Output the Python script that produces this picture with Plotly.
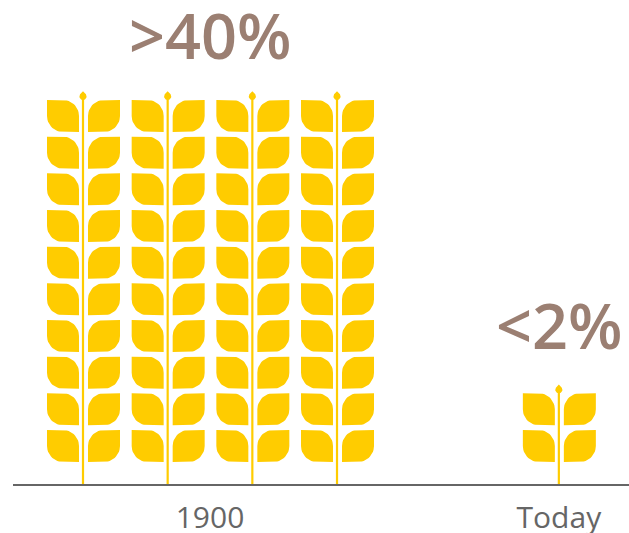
import numpy as np
import plotly.graph_objects as go

# Data
categories = ["1900", "Today"]
stalks = [4, 1]
leaf_pairs = [10, 2]
share_labels = [">40%", "<2%"]
first_stalk = [0.0, 5.62]

# Layout scale: x unit = one stalk spacing, y unit = one leaf row
W, H = 629, 533
LEFT_PX, BASE_PX = 13, 484
ML, MB = LEFT_PX, H - BASE_PX
X0_PX, PITCH_X = 83.0, 84.67
PITCH_Y = 36.67
x_range = [(LEFT_PX - X0_PX) / PITCH_X, (W - X0_PX) / PITCH_X]
y_range = [0, BASE_PX / PITCH_Y]

GRAIN = "#FFCC00"
BROWN = "#9B7F72"
GREY = "#666666"
FONT = "Open Sans, Noto Sans, sans-serif"


def arc(cx, cy, r, a0, a1, n=14):
    t = np.radians(np.linspace(a0, a1, n))
    return list(cx + r * np.cos(t)), list(cy + r * np.sin(t))


def leaf_template(size=32.0, r=16.0):
    xs, ys = [0.0], [size]
    ax, ay = arc(size - r, size - r, r, 90, 0)
    xs += ax; ys += ay
    xs += [size, size]; ys += [0.0, 0.0]
    bx, by = arc(r, r, r, 270, 180)
    xs += bx; ys += by
    xs.append(0.0); ys.append(size)
    return np.array(xs), np.array(ys)


LX, LY = leaf_template()
LEAF_GAP_L, LEAF_GAP_R = 4.0, 5.0
BOTTOM_PX = 22.0
LEAF_H = 32.0

leaf_x, leaf_y, stem_x, stem_y, tip_x, tip_y, centers = [], [], [], [], [], [], []
for n, pairs, start in zip(stalks, leaf_pairs, first_stalk):
    positions = [start + i for i in range(n)]
    centers.append(sum(positions) / n)
    top = (BOTTOM_PX + (pairs - 1) * PITCH_Y + LEAF_H) / PITCH_Y
    for p in positions:
        for row in range(pairs):
            y0 = BOTTOM_PX / PITCH_Y + row
            leaf_x += list(p + (LX - 32 - LEAF_GAP_L) / PITCH_X) + [None]
            leaf_y += list(y0 + LY / PITCH_Y) + [None]
            leaf_x += list(p + (32 - LX + LEAF_GAP_R) / PITCH_X) + [None]
            leaf_y += list(y0 + LY / PITCH_Y) + [None]
        stem_x += [p, p, None]
        stem_y += [0, top + 3 / PITCH_Y, None]
        tx, ty = arc(0, 0, 3.6, -215, 35, 20)
        tip_x += list(p + np.array(tx + [0, tx[0]]) / PITCH_X) + [None]
        tip_y += list(top + (np.array(ty + [5.2, ty[0]]) + 3.6) / PITCH_Y) + [None]

fig = go.Figure()
fig.add_trace(go.Scatter(x=leaf_x, y=leaf_y, mode="lines", fill="toself", fillcolor=GRAIN,
                         line=dict(width=0, color=GRAIN), hoverinfo="skip", showlegend=False))
fig.add_trace(go.Scatter(x=stem_x, y=stem_y, mode="lines",
                         line=dict(width=2.2, color=GRAIN), hoverinfo="skip", showlegend=False))
fig.add_trace(go.Scatter(x=tip_x, y=tip_y, mode="lines", fill="toself", fillcolor=GRAIN,
                         line=dict(width=0, color=GRAIN), hoverinfo="skip", showlegend=False))

label_y = [(BASE_PX - 34) / PITCH_Y, (BASE_PX - 324) / PITCH_Y]
for c, txt, ly in zip(centers, share_labels, label_y):
    fig.add_annotation(x=c, y=ly, text=txt, showarrow=False, xanchor="center", yanchor="middle",
                       font=dict(family=FONT, size=63, weight=600, color=BROWN))

fig.update_layout(
    width=W, height=H, autosize=False,
    margin=dict(l=ML, r=0, t=0, b=MB, pad=0),
    paper_bgcolor="white", plot_bgcolor="white", showlegend=False,
    xaxis=dict(range=x_range, tickmode="array", tickvals=centers, ticktext=categories,
               showgrid=False, zeroline=False, showline=True, linecolor=GREY, linewidth=2,
               ticks="", ticklabelstandoff=6, automargin=False,
               tickfont=dict(family=FONT, size=30, color=GREY)),
    yaxis=dict(range=y_range, visible=False, showgrid=False, zeroline=False, automargin=False),
)
fig.write_html("out.html", config=dict(displayModeBar=False),
               default_width=f"{W}px", default_height=f"{H}px",
               post_script="document.body.style.margin='0';document.documentElement.style.overflow='hidden';")
